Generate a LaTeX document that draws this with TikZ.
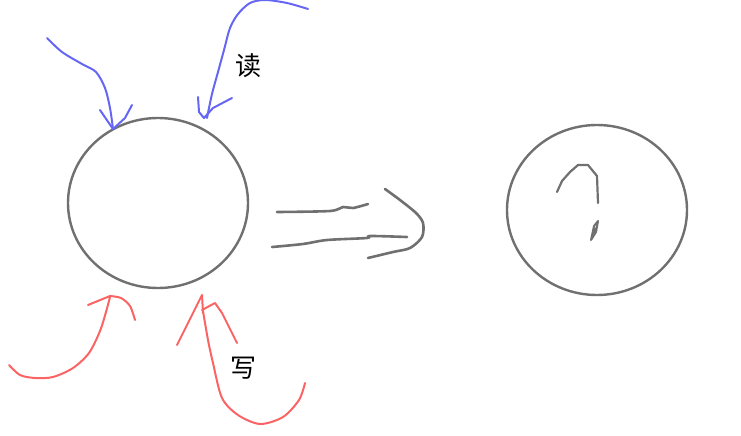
\documentclass[tikz,border=0pt]{standalone}
\usepackage{fontspec}
\newfontfamily\cjk{Noto Sans CJK SC}
\usetikzlibrary{shapes.geometric}
\definecolor{penblue}{RGB}{102,102,245}
\definecolor{penred}{RGB}{250,100,100}
\definecolor{pengray}{RGB}{112,112,112}
\tikzset{
	ball/.style = {ellipse, draw=pengray, line width=2.4pt,
		minimum width=180pt, minimum height=170pt, inner sep=0pt},
	pen_b/.style = {penblue, line width=2pt, line cap=round, line join=round},
	pen_r/.style = {penred, line width=2pt, line cap=round, line join=round},
	pen_g/.style = {pengray, line width=2.6pt, line cap=round, line join=round},
	word/.style = {font=\cjk\fontsize{26pt}{26pt}\selectfont, inner sep=0pt}
}
\begin{document}
\begin{tikzpicture}[x=1pt,y=-1pt]
\useasboundingbox (0,0) rectangle (741,436);
\node [ball] (src) at (158,203) {};
\node [ball] (dst) at (597,210) {};
\node [word] (rd) at (248,66) {读};
\node [word] (wr) at (243,368) {写};
% read strokes
\draw [pen_b] plot[smooth] coordinates {(47,38) (62,52) (82,64) (96,72) (105,88) (110,108) (113,129)};
\draw [pen_b] (100,110) -- (113,129) -- (125,118) -- (132,105);
\draw [pen_b] plot[smooth] coordinates {(308,9) (287,3) (265,0) (250,3) (238,14) (230,28) (224,50) (218,72) (212,94) (207,118)};
\draw [pen_b] (198,97) -- (199,112) -- (204,118) -- (213,108) -- (232,98);
% write strokes
\draw [pen_r] plot[smooth] coordinates {(9,365) (20,375) (35,378) (53,377) (73,368) (89,353) (100,331) (106,312) (110,297)};
\draw [pen_r] (88,305) -- (110,296) plot[smooth] coordinates {(110,296) (121,298) (130,306) (135,320)};
\draw [pen_r] (177,345) -- (202,295) -- (203,313);
\draw [pen_r] plot[smooth] coordinates {(203,311) (208,340) (213,363) (222,398) (238,415) (260,424) (283,417) (299,400) (305,383)};
\draw [pen_r] (202,310) -- (215,303) -- (222,313) -- (237,343);
% big arrow
\draw [pen_g] plot[smooth] coordinates {(277,212) (330,211) (343,207) (353,208) (368,204)};
\draw [pen_g] plot[smooth] coordinates {(272,247) (303,244) (327,240) (367,238) (370,236) (407,237)};
\draw [pen_g] plot[smooth] coordinates {(385,189) (400,200) (416,213) (423,223) (422,237) (410,248) (393,252) (368,258)};
% question mark
\draw [pen_g, line width=2.2pt] (557,192) -- (562,181) -- (570,172) -- (578,165) -- (588,165) -- (597,176) -- (598,203);
\draw [pen_g, line width=2pt] (591,240) -- (594,226) -- (598,221) -- (596,232) -- (591,240) -- (596,228);
\end{tikzpicture}
\end{document}
